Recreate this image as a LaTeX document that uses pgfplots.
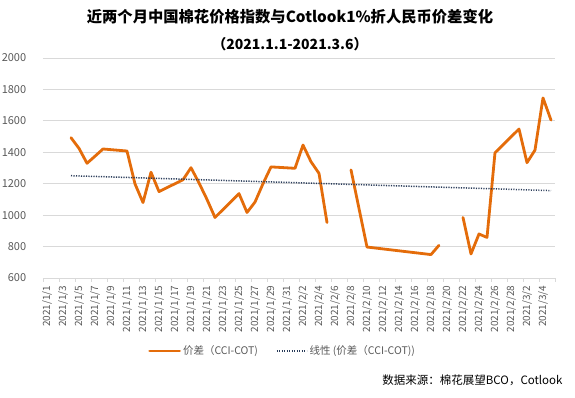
\documentclass[border=0pt]{standalone}
\usepackage{pgfplots}
\pgfplotsset{compat=1.18}
\usepackage{fontspec}
\setmainfont{Noto Sans CJK SC}
\definecolor{cot}{RGB}{228,108,10}
\definecolor{trendc}{RGB}{40,58,88}
\definecolor{gridc}{RGB}{217,217,217}
\definecolor{lab}{RGB}{89,89,89}
\begin{document}
\begin{tikzpicture}[x=1pt,y=1pt]
\path[use as bounding box] (0,0) rectangle (575,398);
\node[font=\fontsize{15.3}{18}\selectfont\bfseries, text=black] at (290,381) {近两个月中国棉花价格指数与Cotlook1\%折人民币价差变化};
\node[font=\fontsize{14}{17}\selectfont\bfseries, text=black] at (290,354) {（2021.1.1-2021.3.6）};
\begin{axis}[
  at={(43pt,120pt)}, anchor=south west, scale only axis,
  width=512pt, height=220pt,
  xmin=-0.5, xmax=63.5, ymin=600, ymax=2000,
  unbounded coords=jump,
  axis line style={draw=none},
  ytick={600,800,...,2000},
  ymajorgrids, grid style={gridc, line width=0.75pt},
  ytick style={draw=none},
  yticklabel style={font=\fontsize{11}{13}\selectfont, text=lab, xshift=-9pt},
  xtick={0,2,...,62},
  xticklabels={2021/1/1,2021/1/3,2021/1/5,2021/1/7,2021/1/9,2021/1/11,2021/1/13,2021/1/15,2021/1/17,2021/1/19,2021/1/21,2021/1/23,2021/1/25,2021/1/27,2021/1/29,2021/1/31,2021/2/2,2021/2/4,2021/2/6,2021/2/8,2021/2/10,2021/2/12,2021/2/14,2021/2/16,2021/2/18,2021/2/20,2021/2/22,2021/2/24,2021/2/26,2021/2/28,2021/3/2,2021/3/4},
  xticklabel style={rotate=90, anchor=east, font=\fontsize{10}{12}\selectfont, text=lab},
  major x tick style={draw=none},
  minor xtick={-0.5,1.5,...,63.5},
  minor x tick style={draw=gridc, line width=0.75pt},
  minor tick length=4pt,
  tick align=outside,
  xtick pos=bottom, ytick pos=left,
  /pgf/number format/assume math mode=true,
  /pgf/number format/1000 sep={},
  legend style={at={(0.468,-0.332)}, anchor=center, draw=none, fill=none,
    legend columns=2, font=\fontsize{10.5}{12}\selectfont, text=lab,
    /tikz/every even column/.append style={column sep=16pt}},
  legend image code/.code={\draw[#1] (0pt,0pt) -- (30pt,0pt);},
]
\addplot[cot, line width=2.8pt, line join=round, line cap=round] coordinates {
(3,1493) (4,1425) (5,1330) (6,1375) (7,1421) (10,1408) (11,1199) (12,1080)
(13,1273) (14,1150) (17,1225) (18,1302) (19,1205) (20,1100) (21,985)
(24,1137) (25,1017) (26,1083) (27,1200) (28,1307) (31,1298) (32,1446)
(33,1340) (34,1266) (35,953) (36,nan)
(38,1288) (40,797) (48,749) (49,808) (50,nan)
(52,985) (53,753) (54,880) (55,858) (56,1397) (59,1548) (60,1334)
(61,1414) (62,1746) (63,1605)
};
\addlegendentry{价差（CCI-COT)}
\addplot[trendc, line width=1.5pt, dash pattern=on 1.2pt off 1.3pt] coordinates {
(3,1251) (63,1156)
};
\addlegendentry{线性 (价差（CCI-COT))}
\end{axis}
\node[anchor=east, font=\fontsize{11.5}{13}\selectfont, text=black] at (566,18) {数据来源：棉花展望BCO，Cotlook};
\end{tikzpicture}
\end{document}
